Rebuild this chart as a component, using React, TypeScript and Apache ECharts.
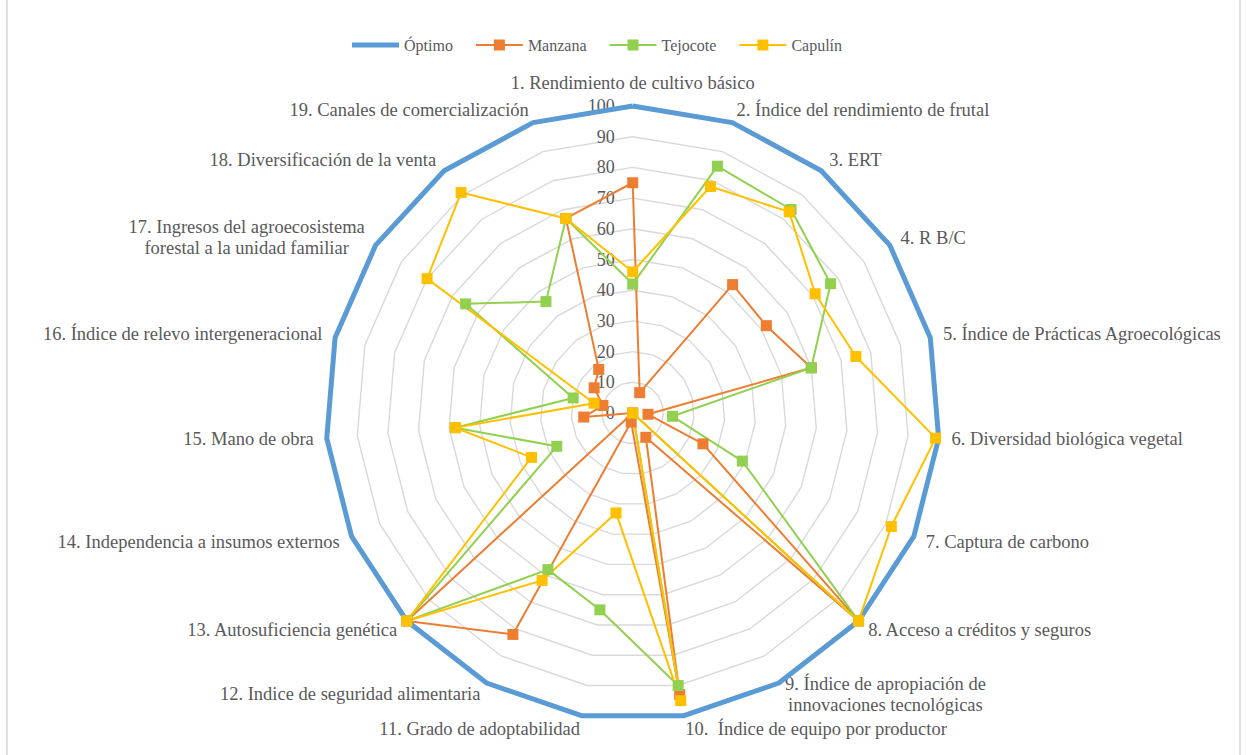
import React, { useEffect, useRef } from "react";
import * as echarts from "echarts";

// Indicator names (axes run clockwise from the top)
const indicatorNames: string[] = [
  "1. Rendimiento de cultivo básico",
  "2. Índice del rendimiento de frutal",
  "3. ERT",
  "4. R B/C",
  "5. Índice de Prácticas Agroecológicas",
  "6. Diversidad biológica vegetal",
  "7. Captura de carbono",
  "8. Acceso a créditos y seguros",
  "9. Índice de apropiación de\ninnovaciones tecnológicas",
  "10.  Índice de equipo por productor",
  "11. Grado de adoptabilidad",
  "12. Indice de seguridad alimentaria",
  "13. Autosuficiencia genética",
  "14. Independencia a insumos externos",
  "15. Mano de obra",
  "16. Índice de relevo intergeneracional",
  "17. Ingresos del agroecosistema\nforestal a la unidad familiar",
  "18. Diversificación de la venta",
  "19. Canales de comercialización",
];

const seriesNames = ["Óptimo", "Manzana", "Tejocote", "Capulín"];

const optimo = [100, 100, 100, 100, 100, 100, 100, 100, 100, 100, 100, 100, 100, 100, 100, 100, 100, 100, 100];
const manzana = [75, 7, 53, 52, 60, 5, 25, 100, 9, 93, 3, 82, 100, 0, 16, 10, 15, 18, 67];
const tejocote = [42, 85, 84, 77, 60, 13, 39, 100, 0, 90, 65, 58, 100, 27, 58, 20, 65, 46, 67];
const capulin = [46, 78, 83, 71, 75, 99, 92, 100, 0, 95, 33, 62, 100, 36, 58, 13, 80, 91, 67];

const scaleMax = 100;

const COLORS = {
  optimo: "#5B9BD5",
  manzana: "#ED7D31",
  tejocote: "#92D050",
  capulin: "#FFC000",
};

const FONT = "'Liberation Serif', 'Times New Roman', serif";
const TEXT = "#595959";

// Legend glyphs: a plain thick stroke, and a thin stroke with a square marker
const ICON_THICK = "path://M0,0M0,3h47v5h-47zM47,11";
const ICON_MARKER = "path://M0,4.5h18v-4.5h11v4.5h18v2h-18v4.5h-11v-4.5h-18z";

// ECharts lays radar axes out counter-clockwise; keep the first axis on top
// and reverse the rest so the indicators read clockwise.
function clockwise<T>(arr: T[]): T[] {
  return [arr[0], ...arr.slice(1).reverse()];
}

export default function App() {
  const ref = useRef<HTMLDivElement>(null);

  useEffect(() => {
    if (!ref.current) return;
    const chart = echarts.init(ref.current, null, { renderer: "svg" });

    const nameRich = {
      c: {
        align: "center",
        fontFamily: FONT,
        fontSize: 18.5,
        color: TEXT,
        lineHeight: 21,
      },
    };

    const indicator = clockwise(indicatorNames).map((n, i) => {
      const text = n.includes("\n")
        ? n
            .split("\n")
            .map((l) => `{c|${l}}`)
            .join("\n")
        : n;
      const item: any = { name: text, min: 0, max: scaleMax };
      if (i === 0) item.axisLabel = { show: true };
      return item;
    });

    const marked = (name: string, values: number[], color: string) => ({
      name,
      value: clockwise(values),
      symbol: "rect",
      symbolSize: 11,
      lineStyle: { color, width: 2 },
      itemStyle: { color },
    });

    chart.setOption({
      animation: false,
      backgroundColor: "#ffffff",
      legend: {
        left: 347,
        top: 32,
        itemWidth: 47,
        itemHeight: 11,
        itemGap: 23,
        itemStyle: { borderWidth: 0 },
        textStyle: { fontFamily: FONT, fontSize: 16, color: TEXT },
        data: [
          { name: seriesNames[0], icon: ICON_THICK },
          { name: seriesNames[1], icon: ICON_MARKER },
          { name: seriesNames[2], icon: ICON_MARKER },
          { name: seriesNames[3], icon: ICON_MARKER },
        ],
      },
      radar: {
        center: [632.7, 413],
        radius: 307,
        startAngle: 90,
        splitNumber: 10,
        shape: "polygon",
        nameGap: 13,
        axisName: {
          fontFamily: FONT,
          fontSize: 18.5,
          color: TEXT,
          lineHeight: 21,
          rich: nameRich,
        },
        axisLine: { show: false },
        axisTick: { show: false },
        axisLabel: {
          show: false,
          fontFamily: FONT,
          fontSize: 18,
          color: TEXT,
          margin: 18,
        },
        splitLine: { lineStyle: { color: "#D9D9D9", width: 1.4 } },
        splitArea: { show: false },
        indicator,
      },
      series: [
        {
          type: "radar",
          symbolKeepAspect: true,
          data: [
            {
              name: seriesNames[0],
              value: clockwise(optimo),
              symbol: "none",
              lineStyle: { color: COLORS.optimo, width: 5, join: "round" },
              itemStyle: { color: COLORS.optimo },
            },
            marked(seriesNames[1], manzana, COLORS.manzana),
            marked(seriesNames[2], tejocote, COLORS.tejocote),
            marked(seriesNames[3], capulin, COLORS.capulin),
          ],
        },
      ],
      graphic: [
        {
          type: "rect",
          silent: true,
          shape: { x: 7, y: -5, width: 1233, height: 765 },
          style: { fill: "none", stroke: "#D9D9D9", lineWidth: 1.5 },
        },
      ],
    });

    return () => chart.dispose();
  }, []);

  return (
    <div
      ref={ref}
      style={{ position: "absolute", left: 0, top: 0, width: 1247, height: 755 }}
    />
  );
}
